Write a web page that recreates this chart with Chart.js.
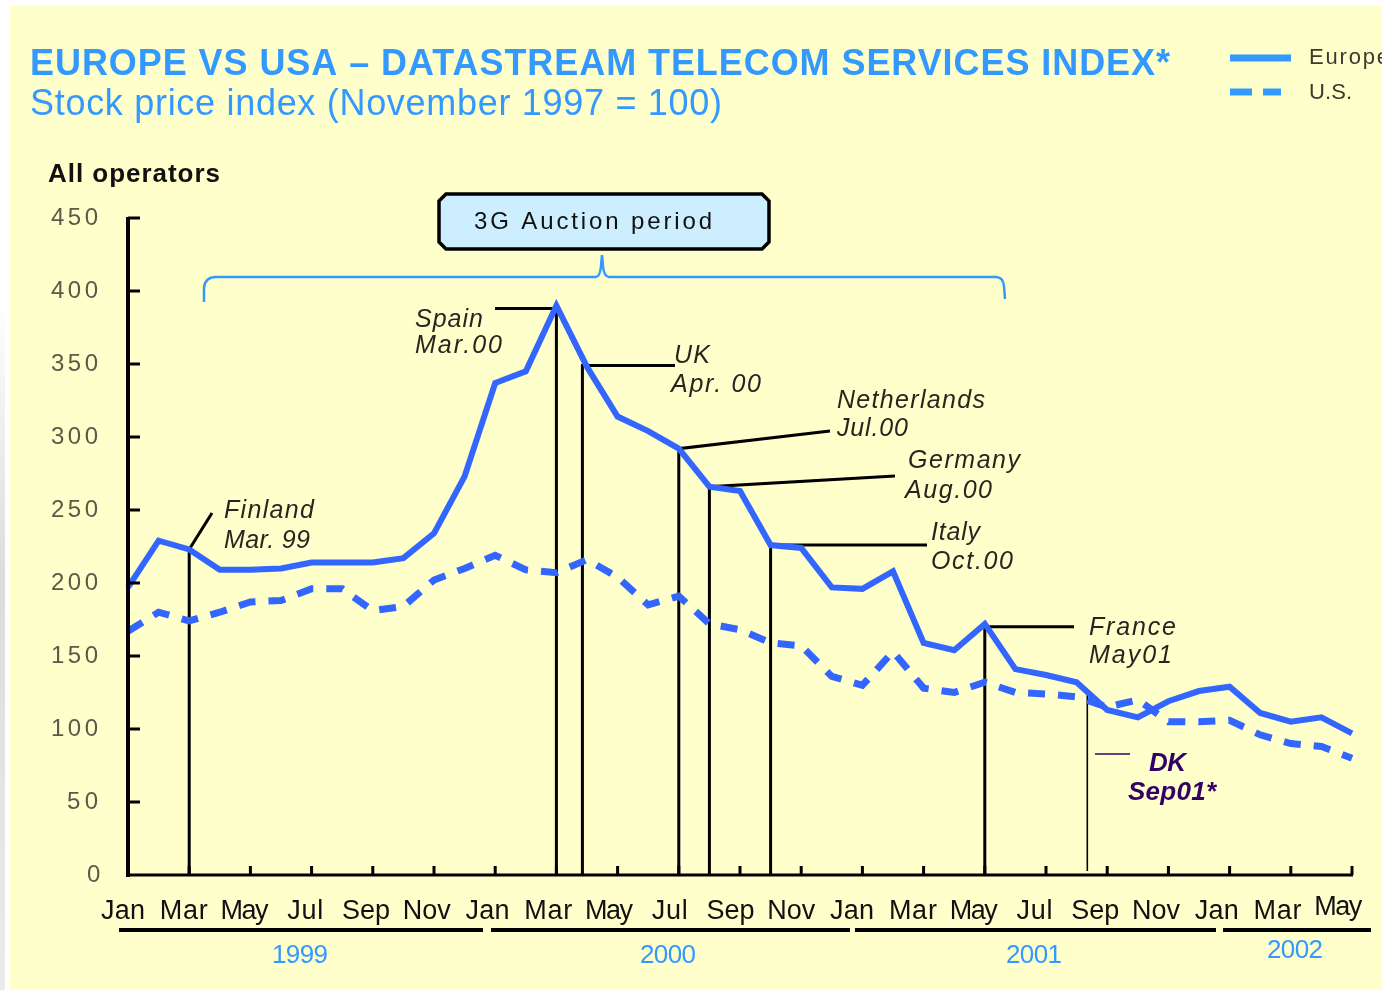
<!DOCTYPE html>
<html>
<head>
<meta charset="utf-8">
<script src="https://cdn.jsdelivr.net/npm/chart.js@4.4.0/dist/chart.umd.min.js"></script>
<style>
  html, body { margin: 0; padding: 0; background: #ffffff; }
  #wrap { position: absolute; left: 0; top: 0; width: 1382px; height: 990px; }
  canvas { display: block; }
</style>
</head>
<body>
<div id="wrap"><canvas id="c" width="1382" height="990"></canvas></div>
<script>
// ---------- DATA ----------
const months = [
  'Jan','Feb','Mar','Apr','May','Jun','Jul','Aug','Sep','Oct','Nov','Dec',
  'Jan','Feb','Mar','Apr','May','Jun','Jul','Aug','Sep','Oct','Nov','Dec',
  'Jan','Feb','Mar','Apr','May','Jun','Jul','Aug','Sep','Oct','Nov','Dec',
  'Jan','Feb','Mar','Apr','May'
];
const europe = [
  197, 229, 223, 209, 209, 210, 214, 214, 214, 217, 234, 273,
  337, 345, 390, 348, 314, 304, 292, 266, 263, 226, 224, 197,
  196, 208, 159, 154, 172, 141, 137, 132, 113, 108, 119, 126,
  129, 111, 105, 108, 97
];
const us = [
  167, 180, 174, 180, 187, 188, 196, 196, 181, 184, 202, 210,
  219, 209, 207, 216, 204, 185, 191, 172, 168, 159, 157, 136,
  130, 153, 128, 125, 132, 125, 124, 122, 115, 120, 105, 105,
  106, 96, 90, 88, 80
];
const yTickLabels = ['0','50','100','150','200','250','300','350','400','450'];
const yTickValues = [0, 50, 100, 150, 200, 250, 300, 350, 400, 450];
const years = ['1999', '2000', '2001', '2002'];
const seriesNames = ['Europe', 'U.S.'];
// auction annotations: country, date label, month index, index level
const auctionCountries = ['Finland', 'Spain', 'UK', 'Netherlands', 'Germany', 'Italy', 'France', 'DK'];
const auctionDates = ['Mar. 99', 'Mar.00', 'Apr. 00', 'Jul.00', 'Aug.00', 'Oct.00', 'May01', 'Sep01*'];
const auctionMonth = [2, 14, 14.85, 18, 19, 21, 28, 31.35];
const auctionLevel = [223, 388, 349, 292, 266, 226, 170, 125];

const titleText = 'EUROPE VS USA \u2013 DATASTREAM TELECOM SERVICES INDEX*';
const subtitleText = 'Stock price index (November 1997 = 100)';
const panelText = 'All operators';
const boxText = '3G Auction period';

// ---------- STYLE / LAYOUT ----------
const FONT = "'Liberation Sans', Arial, Helvetica, sans-serif";
const LINE_BLUE = '#3366ff';
const LIGHT_BLUE = '#3399ff';

function txt(ctx, s, x, y, o) {
  ctx.save();
  ctx.font = o.font;
  ctx.fillStyle = o.color || '#000';
  ctx.textBaseline = o.baseline || 'alphabetic';
  ctx.textAlign = 'left';
  if ('letterSpacing' in ctx) ctx.letterSpacing = '0px';
  const w = ctx.measureText(s).width;
  let ls = 0;
  const target = o.width || w;
  if (o.width && s.length > 1) ls = (o.width - w) / (s.length - 1);
  let dx = x;
  if (o.align === 'center') dx = x - target / 2;
  else if (o.align === 'right') dx = x - target;
  if ('letterSpacing' in ctx) {
    ctx.letterSpacing = ls + 'px';
    ctx.fillText(s, dx, y);
    ctx.letterSpacing = '0px';
  } else {
    ctx.fillText(s, dx, y, target);
  }
  ctx.restore();
}

function line(ctx, pts, w, color, dash) {
  ctx.save();
  ctx.beginPath();
  ctx.lineWidth = w;
  ctx.strokeStyle = color;
  ctx.setLineDash(dash || []);
  ctx.lineCap = 'butt';
  ctx.moveTo(pts[0][0], pts[0][1]);
  for (let i = 1; i < pts.length; i++) ctx.lineTo(pts[i][0], pts[i][1]);
  ctx.stroke();
  ctx.restore();
}

const backgroundPlugin = {
  id: 'bg',
  beforeDraw(chart) {
    const ctx = chart.ctx;
    ctx.save();
    ctx.fillStyle = '#ffffff';
    ctx.fillRect(0, 0, 1382, 990);
    const gv = ctx.createLinearGradient(0, 300, 0, 990);
    gv.addColorStop(0, 'rgba(220,220,220,0)');
    gv.addColorStop(0.4, 'rgba(220,220,220,1)');
    gv.addColorStop(1, 'rgba(235,235,235,1)');
    ctx.fillStyle = gv;
    ctx.fillRect(0, 300, 5, 690);
    ctx.fillStyle = '#ffffcc';
    ctx.fillRect(10, 6, 1372, 984);
    ctx.restore();

    // titles
    txt(ctx, titleText, 30, 75, { font: 'bold 36px ' + FONT, color: LIGHT_BLUE, width: 1140 });
    txt(ctx, subtitleText, 30, 115, { font: '36px ' + FONT, color: LIGHT_BLUE, width: 692 });
    txt(ctx, panelText, 48, 182, { font: 'bold 26px ' + FONT, color: '#111', width: 172 });

    // legend
    line(ctx, [[1230, 58], [1291, 58]], 7, LIGHT_BLUE);
    line(ctx, [[1230, 92], [1252, 92]], 7, LIGHT_BLUE);
    line(ctx, [[1263, 92], [1281, 92]], 7, LIGHT_BLUE);
    txt(ctx, seriesNames[0], 1309, 64, { font: '22px ' + FONT, color: '#3a3a30', width: 80 });
    txt(ctx, seriesNames[1], 1309, 99, { font: '22px ' + FONT, color: '#3a3a30', width: 43 });

    // 3G auction box
    ctx.save();
    ctx.beginPath();
    const bx = 439, by = 194, bw = 330, bh = 55, r = 7;
    ctx.moveTo(bx + r, by);
    ctx.lineTo(bx + bw - r, by);
    ctx.lineTo(bx + bw, by + r);
    ctx.lineTo(bx + bw, by + bh - r);
    ctx.lineTo(bx + bw - r, by + bh);
    ctx.lineTo(bx + r, by + bh);
    ctx.lineTo(bx, by + bh - r);
    ctx.lineTo(bx, by + r);
    ctx.closePath();
    ctx.fillStyle = '#cdeeff';
    ctx.fill();
    ctx.lineWidth = 3.5;
    ctx.strokeStyle = '#000';
    ctx.stroke();
    ctx.restore();
    txt(ctx, boxText, 474, 229, { font: '24px ' + FONT, color: '#111', width: 238 });

    // brace
    ctx.save();
    ctx.beginPath();
    ctx.lineWidth = 2.5;
    ctx.strokeStyle = LIGHT_BLUE;
    ctx.moveTo(204, 302);
    ctx.lineTo(204, 288);
    ctx.quadraticCurveTo(205, 277, 216, 277);
    ctx.lineTo(596, 277);
    ctx.quadraticCurveTo(600, 277, 601, 266);
    ctx.lineTo(602, 255);
    ctx.lineTo(603, 266);
    ctx.quadraticCurveTo(604, 277, 609, 277);
    ctx.lineTo(996, 277);
    ctx.quadraticCurveTo(1003, 277, 1004, 286);
    ctx.lineTo(1005, 299);
    ctx.stroke();
    ctx.restore();
  },
  beforeDatasetsDraw(chart) {
    const ctx = chart.ctx;
    const xs = chart.scales.x, ys = chart.scales.y;
    const X = v => xs.getPixelForValue(v);
    const Y = v => ys.getPixelForValue(v);
    const base = Y(0);
    const lw = 3;
    const labelFont = 'italic 25px ' + FONT;
    const labelColor = '#262620';
    const px = auctionMonth.map(X);
    const py = auctionLevel.map(Y);
    line(ctx, [[px[0], base], [px[0], py[0]], [212, 513]], lw, '#000');
    line(ctx, [[px[1], base], [px[1], py[1]], [495, py[1]]], lw, '#000');
    line(ctx, [[px[2], base], [px[2], py[2]], [675, py[2]]], lw, '#000');
    line(ctx, [[px[3], base], [px[3], py[3]], [830, 431]], lw, '#000');
    line(ctx, [[px[4], base], [px[4], py[4]], [895, 476]], lw, '#000');
    line(ctx, [[px[5], base], [px[5], py[5]], [927, py[5]]], lw, '#000');
    line(ctx, [[px[6], base], [px[6], py[6]], [1074, py[6]]], lw, '#000');
    line(ctx, [[px[7], base - 4], [px[7], py[7]]], 1.6, '#000');
    line(ctx, [[1095, 754], [1130, 754]], 1.6, '#330066');

    const labelPos = [
      [224, 518, 90, 224, 548, 86],
      [415, 327, 68, 415, 353, 87],
      [674, 363, 36, 671, 392, 90],
      [837, 408, 148, 837, 436, 71],
      [908, 468, 112, 905, 498, 87],
      [931, 540, 49, 931, 569, 82],
      [1089, 635, 87, 1089, 663, 83]
    ];
    for (let i = 0; i < 7; i++) {
      const p = labelPos[i];
      txt(ctx, auctionCountries[i], p[0], p[1], { font: labelFont, color: labelColor, width: p[2] });
      txt(ctx, auctionDates[i], p[3], p[4], { font: labelFont, color: labelColor, width: p[5] });
    }
    txt(ctx, auctionCountries[7], 1149, 771, { font: 'italic bold 26px ' + FONT, color: '#330066', width: 37 });
    txt(ctx, auctionDates[7], 1128, 800, { font: 'italic bold 26px ' + FONT, color: '#330066', width: 88 });
  },
  afterDatasetsDraw(chart) {
    const ctx = chart.ctx;
    const xs = chart.scales.x, ys = chart.scales.y;
    const X = v => xs.getPixelForValue(v);
    const Y = v => ys.getPixelForValue(v);
    const left = X(0), right = X(months.length - 1);
    const top = Y(450), base = Y(0);
    line(ctx, [[left, top - 1], [left, base + 2]], 4, '#000');
    line(ctx, [[left - 2, base], [right + 1, base]], 3, '#000');
    yTickValues.forEach((v, i) => {
      if (v > 0) line(ctx, [[left, Y(v)], [left + 12, Y(v)]], 3, '#000');
      const lbl = yTickLabels[i];
      txt(ctx, lbl, 98, Y(v), { font: '24px ' + FONT, color: '#5a5a48', width: lbl.length === 1 ? 11 : (lbl.length === 2 ? 31 : 47), align: 'right', baseline: 'middle' });
    });
    for (let m = 2; m < months.length; m += 2) {
      line(ctx, [[X(m), base], [X(m), base - 9]], 3, '#000');
    }
    for (let m = 0; m < months.length; m += 2) {
      const cx = X(m) - 5 - m * 0.22;
      const by = (m === months.length - 1) ? 915 : 919;
      txt(ctx, months[m], cx, by, { font: '27px ' + FONT, color: '#111', align: 'center', width: months[m] === 'Jul' ? 36 : (months[m] === 'Jan' ? 44 : 48) });
    }
    const ends = [483, 850, 1216, 1371];
    const starts = [119, 491, 855, 1223];
    const centers = [300, 668, 1034, 1295];
    const ybase = [963, 963, 963, 958];
    years.forEach((yname, i) => {
      line(ctx, [[starts[i], 930], [ends[i], 930]], 4, '#000');
      txt(ctx, yname, centers[i], ybase[i], { font: '26px ' + FONT, color: LIGHT_BLUE, align: 'center', width: 56 });
    });
  }
};

new Chart(document.getElementById('c').getContext('2d'), {
  type: 'line',
  data: {
    labels: months,
    datasets: [
      { label: seriesNames[0], data: europe, borderColor: LINE_BLUE, borderWidth: 6, pointRadius: 0, tension: 0, fill: false },
      { label: seriesNames[1], data: us, borderColor: LINE_BLUE, borderWidth: 7, borderDash: [17, 13], pointRadius: 0, tension: 0, fill: false }
    ]
  },
  options: {
    responsive: false,
    animation: false,
    devicePixelRatio: 1,
    layout: { padding: { left: 128, right: 30, top: 218, bottom: 115 } },
    plugins: { legend: { display: false }, tooltip: { enabled: false }, title: { display: false } },
    scales: {
      x: { type: 'category', display: false, offset: false },
      y: { type: 'linear', display: false, min: 0, max: 450 }
    }
  },
  plugins: [backgroundPlugin]
});
</script>
</body>
</html>
